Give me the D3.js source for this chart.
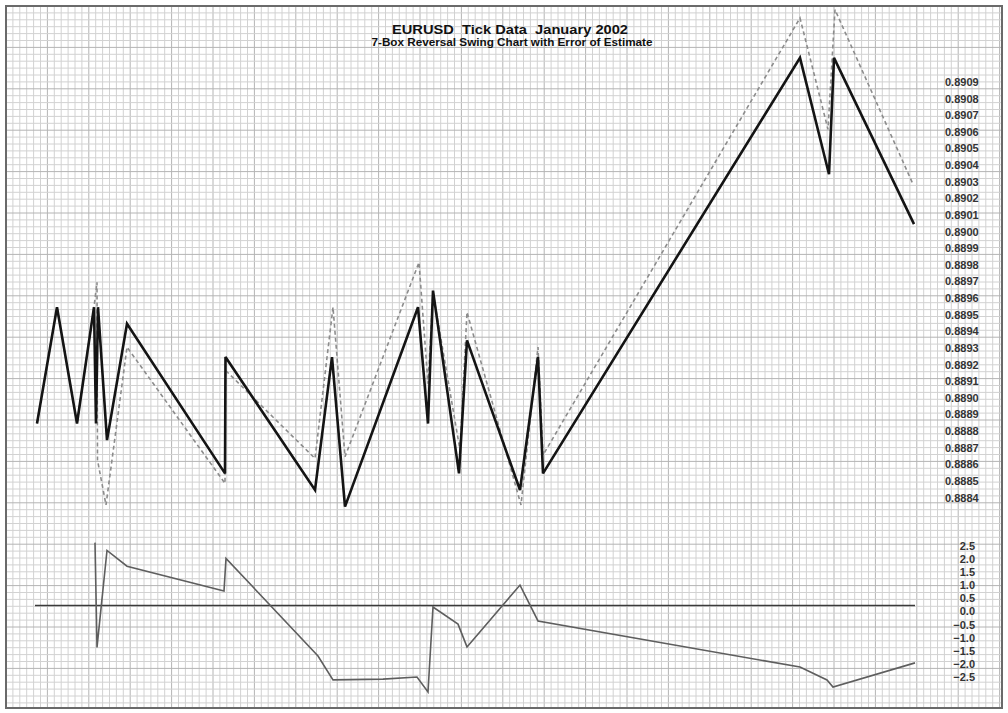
<!DOCTYPE html>
<html>
<head>
<meta charset="utf-8">
<script src="https://cdn.jsdelivr.net/npm/d3@7"></script>
<style>
  body { margin: 0; background: #fff; }
  text { font-family: "Liberation Sans", Arial, sans-serif; white-space: pre; }
</style>
</head>
<body>
<div id="wrap"></div>
<script>
// swing chart turning points (tick number, price)
var swingTick  = [0, 20, 40, 57, 59, 61, 70, 90, 188, 188.5, 278, 295, 308, 381, 391, 396, 422, 430, 483, 501, 506, 763, 792, 797, 877];
var swingPrice = [0.8888, 0.8895, 0.8888, 0.8895, 0.8888, 0.8895, 0.8887, 0.8894, 0.8885, 0.8892, 0.8884, 0.8892, 0.8883,
                  0.8895, 0.8888, 0.8896, 0.8885, 0.8893, 0.8884, 0.8892, 0.8885, 0.8910, 0.8903, 0.8910, 0.8900];

// estimated swing (dashed)
var estTick  = [0, 20, 40, 57, 60, 60.5, 69, 90, 188, 188.5, 278, 296, 308, 382, 391, 396, 423, 430, 484, 501, 506, 763, 791, 798, 876];
var estPrice = [0.8888, 0.8895, 0.8888, 0.8895, 0.88965, 0.88858, 0.88831, 0.88926, 0.88844, 0.88912, 0.88859, 0.88950, 0.88860,
                0.88977, 0.88904, 0.88959, 0.88864, 0.88947, 0.88831, 0.88926, 0.88861, 0.89124, 0.89057, 0.89129, 0.89024];

// error of estimate
var errTick  = [58, 60, 70, 90, 187, 189, 281, 296, 346, 380, 391, 396, 421, 430, 483, 501, 763, 790, 796, 878];
var errValue = [2.4, -1.6, 2.1, 1.5, 0.55, 1.8, -1.93, -2.84, -2.81, -2.73, -3.3, -0.06, -0.71, -1.58, 0.78, -0.59, -2.35, -2.84, -3.11, -2.19];

var priceTicks = d3.range(8884, 8910).map(function(d){ return d / 10000; });
var errTicks = [2.5, 2.0, 1.5, 1.0, 0.5, 0.0, -0.5, -1.0, -1.5, -2.0, -2.5];

var title = 'EURUSD  Tick Data  January 2002';
var subtitle = '7-Box Reversal Swing Chart with Error of Estimate';

var width = 1008, height = 713;
var frame = {left: 6, top: 6, right: 1002, bottom: 708};

var svg = d3.select('#wrap').append('svg')
  .attr('width', width)
  .attr('height', height);

// graph paper background
var grid = svg.append('g');
var step = 6.9;
var gx = d3.range(frame.left, frame.right, step),
    gy = d3.range(frame.top, frame.bottom, step);
grid.selectAll('.vx').data(gx).enter().append('line')
  .attr('x1', function(d){return d;}).attr('x2', function(d){return d;})
  .attr('y1', frame.top).attr('y2', frame.bottom)
  .attr('stroke', function(d, i){return i % 6 == 0 ? '#b4b4b4' : '#d2d2d2';})
  .attr('stroke-width', 1);
grid.selectAll('.hy').data(gy).enter().append('line')
  .attr('y1', function(d){return d;}).attr('y2', function(d){return d;})
  .attr('x1', frame.left).attr('x2', frame.right)
  .attr('stroke', function(d, i){return i % 6 == 0 ? '#b4b4b4' : '#d2d2d2';})
  .attr('stroke-width', 1);

svg.append('rect')
  .attr('x', frame.left).attr('y', frame.top)
  .attr('width', frame.right - frame.left).attr('height', frame.bottom - frame.top)
  .attr('fill', 'none').attr('stroke', '#6a6a6a').attr('stroke-width', 2);

var x = d3.scaleLinear().domain([0, 880]).range([37, 917]);
var yP = d3.scaleLinear().domain([0.8884, 0.8909]).range([490, 74.5]);
var yE = d3.scaleLinear().domain([-2.5, 2.5]).range([671, 540]);

// axes
var pAxis = svg.append('g')
  .attr('transform', 'translate(945,0)')
  .call(d3.axisRight(yP).tickValues(priceTicks).tickFormat(d3.format('.4f')).tickSize(0).tickPadding(0));
pAxis.select('.domain').remove();
pAxis.selectAll('text')
  .attr('dy', '1em')
  .attr('font-size', 11).attr('font-weight', 'bold').attr('fill', '#333')
  .attr('font-family', '"Liberation Sans", Arial, sans-serif');

var eAxis = svg.append('g')
  .attr('transform', 'translate(975,0)')
  .call(d3.axisLeft(yE).tickValues(errTicks).tickFormat(d3.format('.1f')).tickSize(0).tickPadding(0));
eAxis.select('.domain').remove();
eAxis.selectAll('text')
  .attr('dy', '0.86em')
  .attr('font-size', 11).attr('font-weight', 'bold').attr('fill', '#333')
  .attr('font-family', '"Liberation Sans", Arial, sans-serif');

// zero line
svg.append('line')
  .attr('x1', x(-2)).attr('x2', x(878))
  .attr('y1', yE(0)).attr('y2', yE(0))
  .attr('stroke', '#3a3a3a').attr('stroke-width', 1.3);

var est = d3.range(estTick.length).map(function(i){return [estTick[i], estPrice[i]];});
var swing = d3.range(swingTick.length).map(function(i){return [swingTick[i], swingPrice[i]];});
var err = d3.range(errTick.length).map(function(i){return [errTick[i], errValue[i]];});

svg.append('path')
  .datum(est)
  .attr('d', d3.line().x(function(d){return x(d[0]);}).y(function(d){return yP(d[1]);}))
  .attr('fill', 'none').attr('stroke', '#8c8c8c').attr('stroke-width', 1.6)
  .attr('stroke-dasharray', '4,3');

svg.append('path')
  .datum(swing)
  .attr('d', d3.line().x(function(d){return x(d[0]);}).y(function(d){return yP(d[1]);}))
  .attr('fill', 'none').attr('stroke', '#141414').attr('stroke-width', 2.6)
  .attr('stroke-linejoin', 'miter').attr('stroke-miterlimit', 3);

svg.append('path')
  .datum(err)
  .attr('d', d3.line().x(function(d){return x(d[0]);}).y(function(d){return yE(d[1]);}))
  .attr('fill', 'none').attr('stroke', '#5e5e5e').attr('stroke-width', 1.6);

// titles
svg.append('text')
  .attr('x', 510).attr('y', 34)
  .attr('text-anchor', 'middle')
  .attr('font-size', 13).attr('font-weight', 'bold').attr('fill', '#111')
  .attr('textLength', 236).attr('lengthAdjust', 'spacingAndGlyphs')
  .text(title);
svg.append('text')
  .attr('x', 512).attr('y', 46)
  .attr('text-anchor', 'middle')
  .attr('font-size', 10.5).attr('font-weight', 'bold').attr('fill', '#111')
  .attr('textLength', 281).attr('lengthAdjust', 'spacingAndGlyphs')
  .text(subtitle);
</script>
</body>
</html>
